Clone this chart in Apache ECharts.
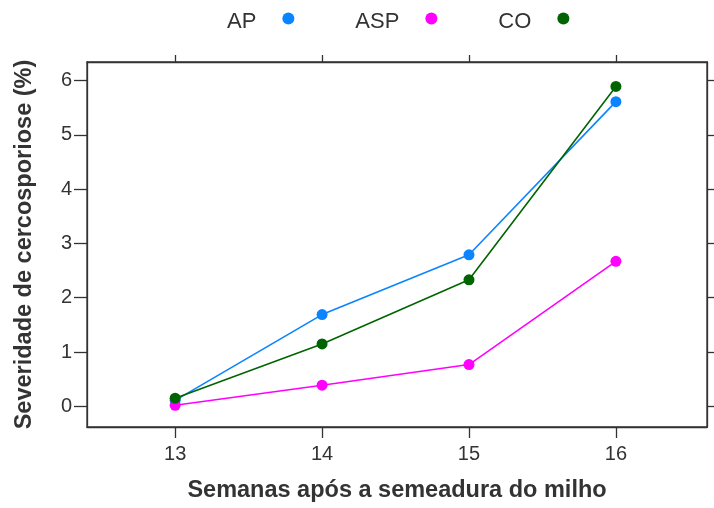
<!DOCTYPE html>
<html>
<head>
<meta charset="utf-8">
<script src="https://cdn.jsdelivr.net/npm/echarts@6/dist/echarts.min.js"></script>
<style>html,body{margin:0;padding:0;background:#fff}#c{width:714px;height:508px}</style>
</head>
<body>
<div id="c"></div>
<script>
var weeks = [13, 14, 15, 16];
var apValues = [0.11, 1.69, 2.79, 5.61];
var aspValues = [0.02, 0.39, 0.77, 2.67];
var coValues = [0.15, 1.15, 2.33, 5.89];
var xTicks = [13, 14, 15, 16];
var yTicks = [0, 1, 2, 3, 4, 5, 6];
var seriesNames = ['AP', 'ASP', 'CO'];
var seriesColors = ['#0A84FF', '#FF00FF', '#006400'];

var font = '"Liberation Sans", Arial, Helvetica, sans-serif';
function pairs(vals) { return weeks.map(function (w, i) { return [w, vals[i]]; }); }
var allVals = [apValues, aspValues, coValues];

var chart = echarts.init(document.getElementById('c'));
var axisLineStyle = { color: '#333', width: 1.3 };
chart.setOption({
  animation: false,
  textStyle: { fontFamily: font },
  legend: {
    data: seriesNames.map(function (n) { return { name: n, icon: 'circle' }; }),
    align: 'right',
    left: 227, top: 11, padding: 0,
    itemGap: 61, itemWidth: 12, itemHeight: 12,
    formatter: '{t|{name}}',
    textStyle: {
      fontSize: 22, color: '#333', fontFamily: font, padding: [0, 21, 0, 0],
      rich: { t: { fontSize: 22, color: '#333', fontFamily: font, padding: [7, 0, 0, 0] } }
    }
  },
  grid: { left: 87, right: 7, top: 62, bottom: 80, show: true, borderColor: '#333', borderWidth: 1.3 },
  xAxis: [{
    type: 'value', min: 12.4, max: 16.62, position: 'bottom',
    name: 'Semanas após a semeadura do milho', nameLocation: 'middle', nameGap: 52,
    nameTextStyle: { fontSize: 23.5, fontWeight: 'bold', color: '#333', fontFamily: font },
    axisLine: { show: true, onZero: false, lineStyle: axisLineStyle },
    axisTick: { show: true, length: 11, customValues: xTicks, lineStyle: axisLineStyle },
    axisLabel: { customValues: xTicks, fontSize: 20, color: '#333', margin: 17, fontFamily: font },
    splitLine: { show: false }
  }, {
    type: 'value', min: 12.4, max: 16.62, position: 'top',
    axisLine: { show: true, onZero: false, lineStyle: axisLineStyle },
    axisTick: { show: true, length: 7, customValues: xTicks, lineStyle: axisLineStyle },
    axisLabel: { show: false },
    splitLine: { show: false }
  }],
  yAxis: [{
    type: 'value', min: -0.38, max: 6.34, position: 'left',
    name: 'Severidade de cercosporiose (%)', nameLocation: 'middle', nameGap: 50,
    nameTextStyle: { fontSize: 23.5, fontWeight: 'bold', color: '#333', fontFamily: font },
    axisLine: { show: true, onZero: false, lineStyle: axisLineStyle },
    axisTick: { show: true, length: 13, customValues: yTicks, lineStyle: axisLineStyle },
    axisLabel: { customValues: yTicks, fontSize: 20, color: '#333', margin: 15, fontFamily: font },
    splitLine: { show: false }
  }, {
    type: 'value', min: -0.38, max: 6.34, position: 'right',
    axisLine: { show: true, onZero: false, lineStyle: axisLineStyle },
    axisTick: { show: true, length: 7, customValues: yTicks, lineStyle: axisLineStyle },
    axisLabel: { show: false },
    splitLine: { show: false }
  }],
  series: seriesNames.map(function (n, i) {
    return {
      name: n, type: 'line', data: pairs(allVals[i]),
      symbol: 'circle', symbolSize: 11, showSymbol: true,
      itemStyle: { color: seriesColors[i] },
      lineStyle: { color: seriesColors[i], width: 1.6 },
      emphasis: { disabled: true }
    };
  })
});
</script>
</body>
</html>
